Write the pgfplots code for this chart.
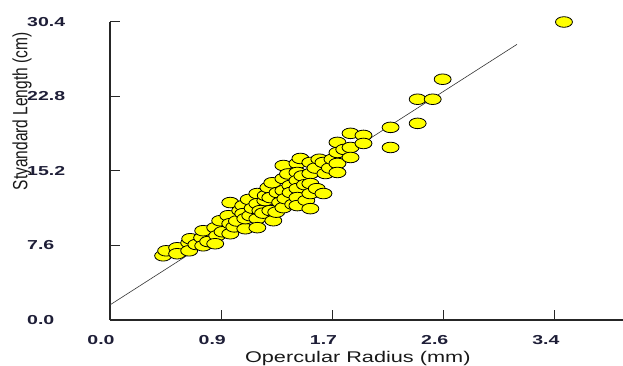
\documentclass[border=0pt]{standalone}
\usepackage{pgfplots}
\pgfplotsset{compat=1.18}
\usepackage{pgfplotstable}
\usepackage{graphicx}
\usepackage{fontspec}
\setmainfont{Liberation Sans}
\definecolor{ptyellow}{RGB}{255,255,0}
\definecolor{ticktext}{RGB}{30,30,55}
\newcommand{\tl}[1]{\scalebox{1.5}[1]{#1}}
\pgfplotstableread{
x y
0.406 6.55
0.429 7.06
0.513 7.37
0.513 6.76
0.605 7.88
0.605 7.06
0.613 8.29
0.66 7.70
0.704 8.39
0.712 7.57
0.712 9.11
0.75 8.00
0.804 9.42
0.819 8.60
0.804 7.78
0.842 10.13
0.86 9.00
0.904 10.64
0.919 8.80
0.919 9.83
0.919 11.98
0.95 9.50
0.97 10.10
0.995 11.16
1.018 11.67
1.018 10.85
1.034 9.31
1.034 10.34
1.06 12.30
1.072 10.64
1.09 11.40
1.126 12.90
1.126 11.87
1.126 10.34
1.126 9.42
1.149 11.16
1.17 10.90
1.187 12.18
1.19 12.70
1.210 13.51
1.225 12.49
1.225 11.16
1.24 14.00
1.248 10.13
1.27 11.00
1.28 13.00
1.30 12.00
1.325 15.76
1.325 14.43
1.325 13.20
1.325 11.46
1.340 12.38
1.36 14.90
1.378 13.72
1.38 13.00
1.40 11.80
1.432 15.97
1.432 15.05
1.432 14.23
1.432 13.41
1.432 12.49
1.432 11.67
1.455 16.48
1.47 14.70
1.49 13.80
1.50 12.20
1.531 16.07
1.531 14.94
1.531 13.92
1.531 12.90
1.531 11.36
1.57 15.50
1.58 13.40
1.60 16.40
1.631 16.07
1.646 14.94
1.631 12.90
1.68 15.50
1.70 16.40
1.738 18.12
1.738 17.09
1.738 15.97
1.738 15.05
1.79 17.40
1.838 19.04
1.838 17.60
1.838 16.58
1.937 18.83
1.937 18.01
2.144 19.65
2.144 17.60
2.351 20.06
2.351 22.52
2.466 22.52
2.542 24.56
3.469 30.40
}\datatable
\pgfplotstableread{
x y
0 1.54
3.11 28.12
}\fitline
\begin{document}
\begin{tikzpicture}
\useasboundingbox (-110pt,-46pt) rectangle (513pt,320pt);
\begin{axis}[
  at={(0pt,0pt)}, anchor=south west,
  scale only axis, width=513pt, height=298pt,
  xmin=0, xmax=3.92, ymin=0, ymax=30.4,
  axis x line=bottom, axis y line=left,
  axis line style={-, line width=1.2pt, black!85},
  tick align=inside, major tick length=10pt,
  tick style={line width=1pt, black!85},
  xtick={0,0.85,1.7,2.55,3.4},
  xticklabels={\tl{0.0},\tl{0.9},\tl{1.7},\tl{2.6},\tl{3.4}},
  ytick={0,7.6,15.2,22.8,30.4},
  yticklabels={\tl{0.0},\tl{7.6},\tl{15.2},\tl{22.8},\tl{30.4}},
  tick label style={font=\fontsize{13}{15}\selectfont\bfseries, text=ticktext, inner sep=0pt},
  xticklabel style={anchor=north, xshift=-9pt, yshift=-15pt},
  yticklabel style={anchor=west, xshift=-83pt},
  xlabel={\scalebox{1.4}[1]{Opercular Radius (mm)}},
  ylabel={\scalebox{1}[1.33]{Styandard Length (cm)}},
  label style={font=\fontsize{15.5}{18}\selectfont, text=black!90},
  xlabel style={at={(axis description cs:0.483,-0.13)}, anchor=center},
  ylabel style={at={(axis description cs:-0.1715,0.70)}, anchor=center},
  clip=false,
]
\addplot[only marks, mark=*, mark size=5.3pt,
  mark options={xscale=1.6, fill=ptyellow, draw=black, line width=0.8pt}]
  table[x=x, y=y] {\datatable};
\addplot[no marks, black!80, line width=0.6pt] table[x=x, y=y] {\fitline};
\end{axis}
\end{tikzpicture}
\end{document}
